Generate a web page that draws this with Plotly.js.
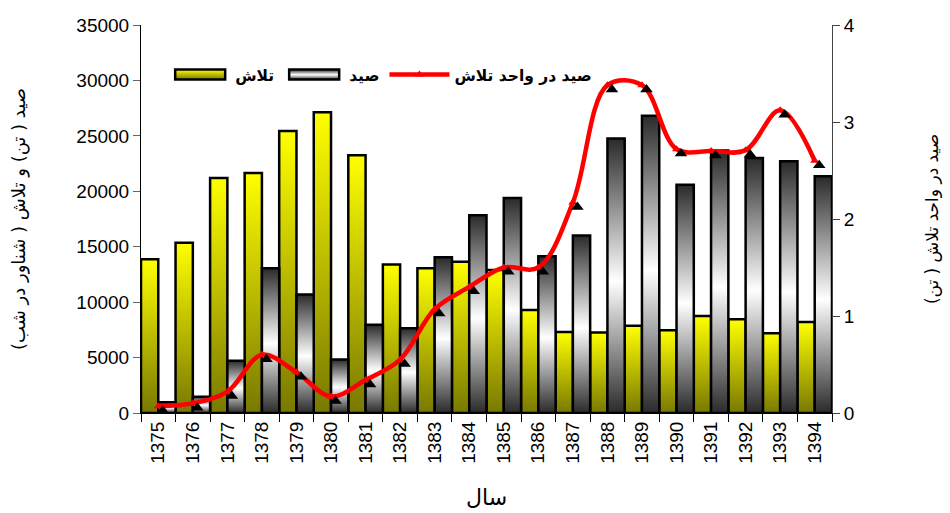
<!DOCTYPE html>
<html><head><meta charset="utf-8">
<script src="https://cdn.plot.ly/plotly-3.0.1.min.js"></script>
<style>html,body{margin:0;padding:0;background:#fff}#chart{width:950px;height:513px}</style>
</head><body><div id="chart"></div>
<script>
const years = ['1375','1376','1377','1378','1379','1380','1381','1382','1383','1384','1385','1386','1387','1388','1389','1390','1391','1392','1393','1394'];
const effort = [13860,15360,21200,21650,25430,27140,23240,13400,13050,13650,12900,9300,7300,7260,7860,7470,8760,8460,7200,8220];
const catchT = [960,1470,4710,13050,10700,4830,7950,7650,14060,17840,19400,14150,16020,24770,26810,20600,23690,23000,22700,21350];
const cpue = [0.07,0.1,0.22,0.6,0.42,0.17,0.34,0.55,1.07,1.3,1.5,1.5,2.17,3.38,3.38,2.72,2.7,2.71,3.12,2.6];
const nameEffort = 'تلاش';
const nameCatch = 'صيد';
const nameCpue = 'صيد در واحد تلاش';
const yLeftTitle = 'صيد ( تن) و تلاش ( شناور در شب)';
const yRightTitle = 'صيد در واحد تلاش ( تن)';
const xTitle = 'سال';

const numFont = {family:'Liberation Sans, Arial, sans-serif', size:19, color:'#000'};
const arFont = 'DejaVu Sans, sans-serif';

const data = [
  {type:'bar', x:years, y:effort, name:nameEffort, marker:{color:'#e0e000', line:{color:'#000', width:2.5}}, xaxis:'x', yaxis:'y'},
  {type:'bar', x:years, y:catchT, name:nameCatch, marker:{color:'#999', line:{color:'#000', width:2.5}}, xaxis:'x', yaxis:'y'},
  {type:'scatter', mode:'lines+markers', x:years, y:cpue, name:nameCpue, xaxis:'x', yaxis:'y2',
    line:{color:'#ff0000', width:4.5, shape:'spline', smoothing:1},
    marker:{symbol:'triangle-up', size:8, color:'#ff0000'}},
  {type:'scatter', mode:'markers', x:years, y:cpue, showlegend:false, xaxis:'x3', yaxis:'y3',
    marker:{symbol:'triangle-up', size:11, color:'#000'}, hoverinfo:'skip'}
];

const layout = {
  width:950, height:513,
  margin:{l:141, r:118, t:25, b:100},
  paper_bgcolor:'#fff', plot_bgcolor:'#fff',
  barmode:'group', bargap:0, bargroupgap:0,
  showlegend:true,
  legend:{orientation:'h', x:0.035, y:0.915, xanchor:'left', yanchor:'top', bgcolor:'rgba(0,0,0,0)',
    font:{family:arFont, size:15.5, color:'#000', weight:'bold'}, itemwidth:60, traceorder:'normal'},
  xaxis:{type:'category', range:[-0.5,19.5], tickangle:-90, ticks:'outside', tickson:'boundaries', ticklen:8, tickcolor:'#000',
    showline:true, linecolor:'#000', linewidth:1, showgrid:false, zeroline:false, tickfont:numFont,
    title:{text:xTitle, font:{family:arFont, size:22, color:'#000'}, standoff:26}},
  yaxis:{range:[0,35000], dtick:5000, tickformat:'d', ticks:'outside', ticklen:7, tickcolor:'#666',
    showline:true, linecolor:'#000', linewidth:1, showgrid:false, zeroline:false, tickfont:numFont,
    title:{text:yLeftTitle, font:{family:arFont, size:18, color:'#000'}, standoff:46}},
  yaxis2:{overlaying:'y', side:'right', range:[0,4], dtick:1, ticks:'outside', ticklen:7, tickcolor:'#444',
    showline:true, linecolor:'#444', linewidth:1, showgrid:false, zeroline:false, tickfont:numFont,
    title:{text:yRightTitle, font:{family:arFont, size:17, color:'#000'}, standoff:72}},
  xaxis3:{overlaying:'x', type:'category', visible:false, range:[-0.63,19.37]},
  yaxis3:{overlaying:'y', visible:false, range:[0.045,4.045]}
};

function addGradients(gd){
  const ns = 'http://www.w3.org/2000/svg';
  const svg = gd.querySelector('.main-svg');
  let defs = svg.querySelector('defs');
  if(!defs){defs = document.createElementNS(ns,'defs'); svg.insertBefore(defs, svg.firstChild);}
  function mk(id, stops){
    if(defs.querySelector('#'+id)) return;
    const g = document.createElementNS(ns,'linearGradient');
    g.setAttribute('id', id); g.setAttribute('x1','0'); g.setAttribute('y1','0'); g.setAttribute('x2','0'); g.setAttribute('y2','1');
    stops.forEach(s=>{const st=document.createElementNS(ns,'stop'); st.setAttribute('offset', s[0]); st.setAttribute('stop-color', s[1]); g.appendChild(st);});
    defs.appendChild(g);
  }
  mk('gYel', [[0,'#ffff00'],[1,'#787800']]);
  mk('gGray', [[0,'#2a2a2a'],[0.52,'#ffffff'],[1,'#2a2a2a']]);
  const traces = gd.querySelectorAll('.barlayer .trace');
  const fills = ['url(#gYel)','url(#gGray)'];
  traces.forEach((t,i)=>{ t.querySelectorAll('path').forEach(p=>{ p.style.fill = fills[i]; }); });
  const leg = gd.querySelectorAll('.legend .traces');
  leg.forEach((t,i)=>{
    if(i>1) return;
    t.querySelectorAll('path.legendbar, .legendpoints path').forEach(p=>{
      p.setAttribute('d','M25,5H-25V-5H25Z');
      p.style.fill = fills[i]; p.style.stroke = '#000'; p.style.strokeWidth = '2.5px';
    });
  });
}

const gd = document.getElementById('chart');
Plotly.newPlot(gd, data, layout, {staticPlot:true}).then(()=>{ addGradients(gd); });
</script>
</body></html>
